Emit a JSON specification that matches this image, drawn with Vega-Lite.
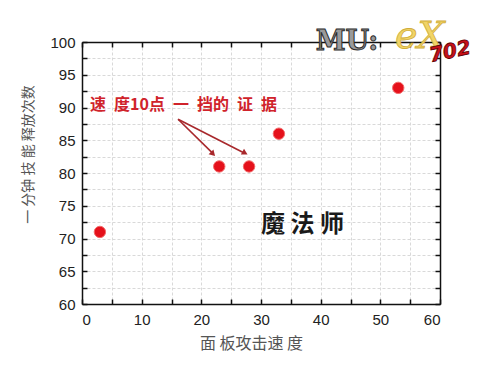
{
  "$schema": "https://vega.github.io/schema/vega-lite/v6.json",
  "autosize": "none",
  "padding": {"left": 82, "top": 42, "right": 60, "bottom": 61},
  "width": 358,
  "height": 262,
  "background": "white",
  "config": {"view": {"stroke": null}},
  "datasets": {
    "points": [
      {"speed": 3, "casts": 71},
      {"speed": 23, "casts": 81},
      {"speed": 28, "casts": 81},
      {"speed": 33, "casts": 86},
      {"speed": 53, "casts": 93}
    ],
    "arrows": [
      {"x": 16.1, "y": 88.2, "x2": 21.8, "y2": 83.1},
      {"x": 16.1, "y": 88.2, "x2": 27.1, "y2": 83.1}
    ]
  },
  "resolve": {"axis": {"x": "independent", "y": "independent"}},
  "layer": [
    {
      "data": {"name": "points"},
      "mark": {"type": "point", "filled": true, "size": 130, "shape": "circle", "color": "#e5111b", "stroke": "#f36a6a", "strokeWidth": 1, "opacity": 1},
      "encoding": {
        "x": {
          "field": "speed", "type": "quantitative",
          "scale": {"domain": [0, 60], "nice": false, "zero": false},
          "axis": {
            "orient": "bottom",
            "values": [0, 5, 10, 15, 20, 25, 30, 35, 40, 45, 50, 55, 60],
            "labelExpr": "datum.value % 10 === 0 ? datum.label : ''",
            "tickSize": -5,
            "tickColor": "#111", "tickWidth": 1.5,
            "domainColor": "#111", "domainWidth": 1.5,
            "grid": true, "gridColor": "#d9d9d9", "gridDash": [3, 2], "gridWidth": 1,
            "labelFont": "Liberation Sans", "labelFontSize": 15, "labelColor": "#222",
            "labelPadding": 13,
            "title": "面 板攻击速 度",
            "titleFont": "Noto Sans CJK SC", "titleFontSize": 16, "titleFontWeight": "normal", "titleColor": "#555",
            "titleX": 169, "titleY": 39, "titleAlign": "center", "titleBaseline": "middle"
          }
        },
        "y": {
          "field": "casts", "type": "quantitative",
          "scale": {"domain": [60, 100], "nice": false, "zero": false},
          "axis": {
            "orient": "left",
            "values": [60, 62.5, 65, 67.5, 70, 72.5, 75, 77.5, 80, 82.5, 85, 87.5, 90, 92.5, 95, 97.5, 100],
            "labelExpr": "datum.value % 5 === 0 ? datum.label : ''",
            "tickSize": -5,
            "tickColor": "#111", "tickWidth": 1.5,
            "domainColor": "#111", "domainWidth": 1.5,
            "grid": true, "gridColor": "#d9d9d9", "gridDash": [3, 2], "gridWidth": 1,
            "labelFont": "Liberation Sans", "labelFontSize": 15, "labelColor": "#222",
            "labelPadding": 12,
            "title": "一 分钟 技 能 释放次数",
            "titleFont": "Noto Sans CJK SC", "titleFontSize": 14, "titleFontWeight": "normal", "titleColor": "#555",
            "titleX": -54, "titleY": 112, "titleAlign": "center", "titleBaseline": "middle"
          }
        }
      }
    },
    {
      "data": {"name": "points"},
      "mark": {"type": "point", "opacity": 0},
      "encoding": {
        "x": {
          "field": "speed", "type": "quantitative",
          "axis": {
            "orient": "top",
            "values": [0, 5, 10, 15, 20, 25, 30, 35, 40, 45, 50, 55, 60],
            "labels": false,
            "tickSize": -5,
            "tickColor": "#111", "tickWidth": 1.5,
            "domainColor": "#111", "domainWidth": 1.5,
            "grid": false, "title": null
          }
        },
        "y": {
          "field": "casts", "type": "quantitative",
          "axis": {
            "orient": "right",
            "values": [60, 62.5, 65, 67.5, 70, 72.5, 75, 77.5, 80, 82.5, 85, 87.5, 90, 92.5, 95, 97.5, 100],
            "labels": false,
            "tickSize": -5,
            "tickColor": "#111", "tickWidth": 1.5,
            "domainColor": "#111", "domainWidth": 1.5,
            "grid": false, "title": null
          }
        }
      }
    },
    {
      "data": {"name": "arrows"},
      "mark": {"type": "rule", "color": "#a8282c", "strokeWidth": 1.6},
      "encoding": {
        "x": {"field": "x", "type": "quantitative", "axis": null},
        "y": {"field": "y", "type": "quantitative", "axis": null},
        "x2": {"field": "x2"},
        "y2": {"field": "y2"}
      }
    },
    {
      "data": {"values": [{"x": 21.96, "y": 82.9}]},
      "mark": {"type": "point", "shape": "triangle-up", "filled": true, "size": 45, "angle": 136, "color": "#a8282c", "opacity": 1},
      "encoding": {
        "x": {"field": "x", "type": "quantitative", "axis": null},
        "y": {"field": "y", "type": "quantitative", "axis": null}
      }
    },
    {
      "data": {"values": [{"x": 27.32, "y": 83.05}]},
      "mark": {"type": "point", "shape": "triangle-up", "filled": true, "size": 45, "angle": 118, "color": "#a8282c", "opacity": 1},
      "encoding": {
        "x": {"field": "x", "type": "quantitative", "axis": null},
        "y": {"field": "y", "type": "quantitative", "axis": null}
      }
    },
    {
      "data": {"values": [{"x": 1.34, "y": 90.4, "label": "速\u2002度10点\u2002一\u2002挡的\u2002证\u2002据"}]},
      "mark": {"type": "text", "align": "left", "baseline": "middle", "font": "Noto Sans CJK SC", "fontSize": 16, "fontWeight": "bold", "color": "#d0232b"},
      "encoding": {
        "x": {"field": "x", "type": "quantitative", "axis": null},
        "y": {"field": "y", "type": "quantitative", "axis": null},
        "text": {"field": "label"}
      }
    },
    {
      "data": {"values": [{"x": 36.96, "y": 72.06, "label": "魔 法 师"}]},
      "mark": {"type": "text", "align": "center", "baseline": "middle", "font": "Noto Sans CJK SC", "fontSize": 24, "fontWeight": "bold", "color": "#1a1a1a"},
      "encoding": {
        "x": {"field": "x", "type": "quantitative", "axis": null},
        "y": {"field": "y", "type": "quantitative", "axis": null},
        "text": {"field": "label"}
      }
    },
    {
      "data": {"values": [{"x": 44.4, "y": 100.0, "label": "MU:"}]},
      "mark": {"type": "text", "align": "center", "baseline": "middle", "font": "DejaVu Serif", "fontSize": 27, "fontWeight": "bold", "color": "#9a9a9a", "stroke": "#2b2b2b", "strokeWidth": 1},
      "encoding": {
        "x": {"field": "x", "type": "quantitative", "axis": null},
        "y": {"field": "y", "type": "quantitative", "axis": null},
        "text": {"field": "label"}
      }
    },
    {
      "data": {"values": [{"x": 56.6, "y": 100.8, "label": "eX"}]},
      "mark": {"type": "text", "align": "center", "baseline": "middle", "font": "DejaVu Serif", "fontSize": 38, "fontStyle": "italic", "color": "#f1d466", "stroke": "#d0ac3a", "strokeWidth": 0.8},
      "encoding": {
        "x": {"field": "x", "type": "quantitative", "axis": null},
        "y": {"field": "y", "type": "quantitative", "axis": null},
        "text": {"field": "label"}
      }
    },
    {
      "data": {"values": [{"x": 61.7, "y": 98.5, "label": "702"}]},
      "mark": {"type": "text", "align": "center", "baseline": "middle", "font": "DejaVu Sans", "fontSize": 20, "fontStyle": "italic", "fontWeight": "bold", "color": "#c8101a", "stroke": "#5a0000", "strokeWidth": 0.8, "angle": -12},
      "encoding": {
        "x": {"field": "x", "type": "quantitative", "axis": null},
        "y": {"field": "y", "type": "quantitative", "axis": null},
        "text": {"field": "label"}
      }
    }
  ]
}
